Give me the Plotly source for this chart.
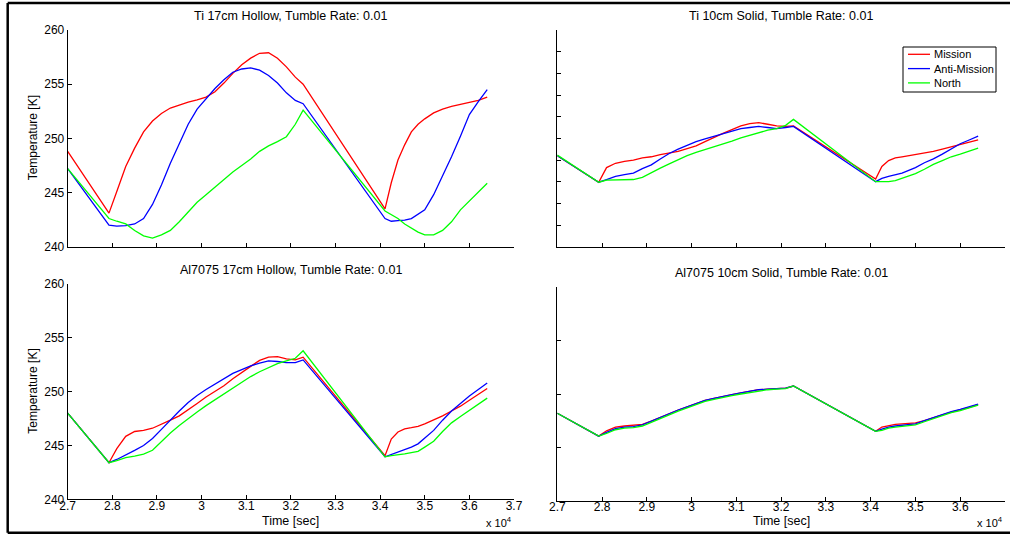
import plotly.graph_objects as go

W, H = 1010, 535
FONT = "Liberation Sans, Arial, Helvetica, sans-serif"

# Sample times [s] shared by all runs
time_s = [27000, 27925, 28100, 28300, 28500, 28700, 28900, 29100, 29300, 29500,
          29700, 29900, 30100, 30300, 30500, 30700, 30900, 31100, 31300, 31500,
          31700, 31900, 32100, 32275, 34110, 34250, 34400, 34550, 34700, 34850,
          35000, 35200, 35400, 35600, 35800, 36000, 36200, 36400]

# Ti 17cm Hollow [K]
ti17_mission = [248.8, 243.1, 245.1, 247.4, 249.1, 250.6, 251.6, 252.3, 252.8, 253.1,
                253.35, 253.55, 253.8, 254.3, 255.1, 256.0, 256.8, 257.4, 257.85, 257.9,
                257.4, 256.6, 255.65, 255.0, 243.5, 245.9, 248.0, 249.4, 250.6, 251.3,
                251.8, 252.35, 252.7, 252.95, 253.15, 253.3, 253.5, 253.8]
ti17_anti = [247.2, 242.0, 241.9, 241.95, 242.1, 242.6, 243.9, 245.7, 247.7, 249.5,
             251.3, 252.7, 253.7, 254.6, 255.4, 256.1, 256.4, 256.5, 256.3, 255.8,
             255.1, 254.2, 253.5, 253.2, 242.6, 242.35, 242.4, 242.45, 242.6, 243.0,
             243.4, 244.8, 246.5, 248.3, 250.2, 252.2, 253.4, 254.5]
ti17_north = [247.2, 242.6, 242.35, 242.1, 241.5, 241.0, 240.8, 241.1, 241.5, 242.3,
              243.2, 244.1, 244.8, 245.5, 246.2, 246.9, 247.5, 248.1, 248.8, 249.3,
              249.7, 250.15, 251.3, 252.6, 243.3, 243.0, 242.6, 242.1, 241.7, 241.35,
              241.1, 241.1, 241.5, 242.3, 243.4, 244.2, 245.0, 245.85]

# Ti 10cm Solid [K]
ti10_mission = [248.4, 245.95, 247.3, 247.7, 247.88, 248.0, 248.2, 248.3, 248.5, 248.65,
                248.8, 249.05, 249.3, 249.7, 250.1, 250.45, 250.8, 251.15, 251.35, 251.45,
                251.3, 251.15, 251.1, 251.15, 246.25, 247.4, 247.95, 248.2, 248.3, 248.4,
                248.5, 248.65, 248.8, 249.0, 249.2, 249.4, 249.6, 249.85]
ti10_anti = [248.4, 245.95, 246.2, 246.5, 246.65, 246.8, 247.2, 247.55, 248.1, 248.6,
             249.0, 249.35, 249.7, 249.95, 250.2, 250.45, 250.7, 250.9, 251.0, 251.1,
             251.0, 250.9, 251.0, 251.1, 246.0, 246.3, 246.5, 246.65, 246.8, 247.05,
             247.3, 247.75, 248.1, 248.55, 249.05, 249.5, 249.85, 250.2]
ti10_north = [248.45, 245.95, 246.15, 246.15, 246.15, 246.2, 246.4, 246.85, 247.25, 247.65,
              248.05, 248.4, 248.7, 248.95, 249.2, 249.5, 249.75, 250.05, 250.3, 250.55,
              250.75, 250.9, 251.2, 251.75, 246.0, 246.0, 246.0, 246.1, 246.3, 246.5,
              246.75, 247.15, 247.6, 247.95, 248.3, 248.55, 248.85, 249.1]

# Al7075 17cm Hollow [K]
al17_mission = [248.0, 243.4, 244.7, 245.85, 246.3, 246.4, 246.6, 246.95, 247.35, 247.75,
                248.3, 248.9, 249.5, 250.0, 250.55, 251.2, 251.8, 252.35, 252.9, 253.2,
                253.25, 253.05, 252.95, 253.2, 244.05, 245.6, 246.25, 246.55, 246.65, 246.77,
                247.0, 247.35, 247.75, 248.2, 248.65, 249.2, 249.75, 250.3]
al17_anti = [248.0, 243.4, 243.7, 244.1, 244.55, 245.0, 245.65, 246.5, 247.4, 248.2,
             249.0, 249.65, 250.2, 250.7, 251.2, 251.7, 252.05, 252.4, 252.65, 252.85,
             252.8, 252.7, 252.7, 252.95, 243.95, 244.15, 244.35, 244.6, 244.85, 245.15,
             245.65, 246.4, 247.35, 248.2, 248.9, 249.6, 250.2, 250.8]
al17_north = [248.0, 243.4, 243.6, 243.88, 244.02, 244.2, 244.55, 245.35, 246.15, 246.85,
              247.5, 248.1, 248.7, 249.25, 249.8, 250.35, 250.9, 251.4, 251.85, 252.25,
              252.6, 252.85, 253.1, 253.8, 243.95, 244.05, 244.12, 244.22, 244.33, 244.45,
              244.85, 245.4, 246.3, 247.1, 247.7, 248.25, 248.8, 249.4]

# Al7075 10cm Solid [K]
al10_mission = [248.2, 246.05, 246.55, 246.9, 247.0, 247.05, 247.15, 247.45, 247.8, 248.2,
                248.5, 248.8, 249.1, 249.4, 249.6, 249.8, 249.95, 250.1, 250.25, 250.4,
                250.45, 250.5, 250.55, 250.75, 246.5, 246.9, 247.05, 247.15, 247.2, 247.25,
                247.3, 247.5, 247.8, 248.05, 248.3, 248.5, 248.75, 249.0]
al10_anti = [248.2, 246.05, 246.4, 246.75, 246.9, 246.95, 247.1, 247.45, 247.8, 248.2,
             248.5, 248.8, 249.1, 249.4, 249.6, 249.8, 249.95, 250.1, 250.25, 250.4,
             250.45, 250.5, 250.55, 250.75, 246.5, 246.7, 246.9, 247.0, 247.05, 247.1,
             247.2, 247.5, 247.8, 248.1, 248.35, 248.55, 248.8, 249.05]
al10_north = [248.2, 246.05, 246.3, 246.65, 246.8, 246.85, 247.0, 247.35, 247.7, 248.1,
              248.4, 248.7, 249.0, 249.3, 249.5, 249.7, 249.85, 250.0, 250.15, 250.3,
              250.4, 250.45, 250.5, 250.75, 246.5, 246.6, 246.8, 246.9, 246.95, 247.0,
              247.1, 247.4, 247.7, 247.95, 248.25, 248.45, 248.7, 248.95]

series_names = ["Mission", "Anti-Mission", "North"]
series_colors = ["#ff0000", "#0000ff", "#00ff00"]

panel_titles = ["Ti 17cm Hollow, Tumble Rate: 0.01",
                "Ti 10cm Solid, Tumble Rate: 0.01",
                "Al7075 17cm Hollow, Tumble Rate: 0.01",
                "Al7075 10cm Solid, Tumble Rate: 0.01"]

x_tick_vals = [27000, 28000, 29000, 30000, 31000, 32000, 33000, 34000, 35000, 36000, 37000]
x_tick_text = ["2.7", "2.8", "2.9", "3", "3.1", "3.2", "3.3", "3.4", "3.5", "3.6", "3.7"]
y_ticks_coarse = [240, 245, 250, 255, 260]
y_ticks_fine = [240, 242, 244, 246, 248, 250, 252, 254, 256, 258, 260]
y_label = "Temperature [K]"
x_label = "Time [sec]"
x_exponent = "x 10<sup>4</sup>"


def px_x(p):
    return p / W


def px_y(p):
    return 1 - p / H


# (title, series, axis suffix, x-domain px, y-domain px (top, bottom), y ticks, y labels, x labels)
panels = [
    (panel_titles[0], [ti17_mission, ti17_anti, ti17_north], "", (67.7, 514.0), (30.0, 246.7),
     y_ticks_coarse, True, False),
    (panel_titles[1], [ti10_mission, ti10_anti, ti10_north], "2", (557.3, 1005.0), (30.0, 246.7),
     y_ticks_fine, False, False),
    (panel_titles[2], [al17_mission, al17_anti, al17_north], "3", (67.7, 514.0), (284.0, 499.3),
     y_ticks_coarse, True, True),
    (panel_titles[3], [al10_mission, al10_anti, al10_north], "4", (557.3, 1005.0), (287.3, 500.7),
     y_ticks_coarse, False, True),
]

fig = go.Figure()
layout = dict(
    template="none",
    width=W, height=H,
    margin=dict(l=0, r=0, t=0, b=0, pad=0),
    paper_bgcolor="white", plot_bgcolor="white",
    showlegend=False,
    font=dict(family=FONT, size=12, color="black"),
)
annotations = []
shapes = []

for title, series, sfx, (x0, x1), (ytop, ybot), yticks, ylab, xlab in panels:
    for vals, name, color in zip(series, series_names, series_colors):
        fig.add_trace(go.Scatter(
            x=time_s, y=vals, name=name, mode="lines",
            line=dict(color=color, width=1.3),
            xaxis="x" + sfx, yaxis="y" + sfx, showlegend=False,
        ))
    axis_common = dict(showline=True, linecolor="black", linewidth=1, mirror=False,
                       ticks="inside", ticklen=4, tickwidth=1, tickcolor="black",
                       showgrid=False, zeroline=False, fixedrange=True, automargin=False,
                       tickfont=dict(family=FONT, size=12, color="black"))
    layout["xaxis" + sfx] = dict(
        axis_common, domain=[px_x(x0), px_x(x1)], range=[27000, 37000],
        anchor="y" + sfx, tickmode="array", tickvals=x_tick_vals,
        ticktext=x_tick_text, showticklabels=xlab, ticklabelstandoff=-5,
    )
    layout["yaxis" + sfx] = dict(
        axis_common, domain=[px_y(ybot), px_y(ytop)], range=[240, 260],
        anchor="x" + sfx, tickmode="array", tickvals=yticks,
        showticklabels=ylab,
    )
    xc = (x0 + x1) / 2
    annotations.append(dict(text=title, x=px_x(xc), y=px_y(ytop - 14), xref="paper", yref="paper",
                            xanchor="center", yanchor="middle", showarrow=False,
                            font=dict(family=FONT, size=12.5, color="black")))
    if ylab:
        annotations.append(dict(text=y_label, x=px_x(33), y=px_y((ytop + ybot) / 2),
                                xref="paper", yref="paper", textangle=-90,
                                xanchor="center", yanchor="middle", showarrow=False,
                                font=dict(family=FONT, size=12, color="black")))
    if xlab:
        annotations.append(dict(text=x_label, x=px_x(xc), y=px_y(520.5), xref="paper", yref="paper",
                                xanchor="center", yanchor="middle", showarrow=False,
                                font=dict(family=FONT, size=12.5, color="black")))
        annotations.append(dict(text=x_exponent, x=px_x(x1), y=px_y(522), xref="paper",
                                yref="paper", xanchor="right", yanchor="middle", showarrow=False,
                                font=dict(family=FONT, size=11, color="black")))

# Legend box in the Ti 10cm panel
lg_left, lg_right, lg_top, lg_bottom = 903, 996, 47, 92
shapes.append(dict(type="rect", xref="paper", yref="paper",
                   x0=px_x(lg_left), x1=px_x(lg_right), y0=px_y(lg_bottom), y1=px_y(lg_top),
                   line=dict(color="black", width=1), fillcolor="white", layer="above"))
for i, (name, color) in enumerate(zip(series_names, series_colors)):
    row_y = 54.3 + i * 14.3
    shapes.append(dict(type="line", xref="paper", yref="paper",
                       x0=px_x(908), x1=px_x(930), y0=px_y(row_y), y1=px_y(row_y),
                       line=dict(color=color, width=1.3), layer="above"))
    annotations.append(dict(text=name, x=px_x(932), y=px_y(row_y), xref="paper", yref="paper",
                            xanchor="left", yanchor="middle", showarrow=False,
                            font=dict(family=FONT, size=11, color="black")))

# Figure frame
frame = dict(color="black", width=2.5)
shapes.append(dict(type="line", xref="paper", yref="paper", x0=px_x(7.7), x1=1.0,
                   y0=px_y(3), y1=px_y(3), line=frame))
shapes.append(dict(type="line", xref="paper", yref="paper", x0=px_x(7.7), x1=px_x(7.7),
                   y0=px_y(3), y1=px_y(532.8), line=frame))
shapes.append(dict(type="line", xref="paper", yref="paper", x0=px_x(7.7), x1=1.0,
                   y0=px_y(532.8), y1=px_y(532.8), line=frame))

layout["annotations"] = annotations
layout["shapes"] = shapes
fig.update_layout(**layout)

fig.write_html("out.html", config={"displayModeBar": False})
